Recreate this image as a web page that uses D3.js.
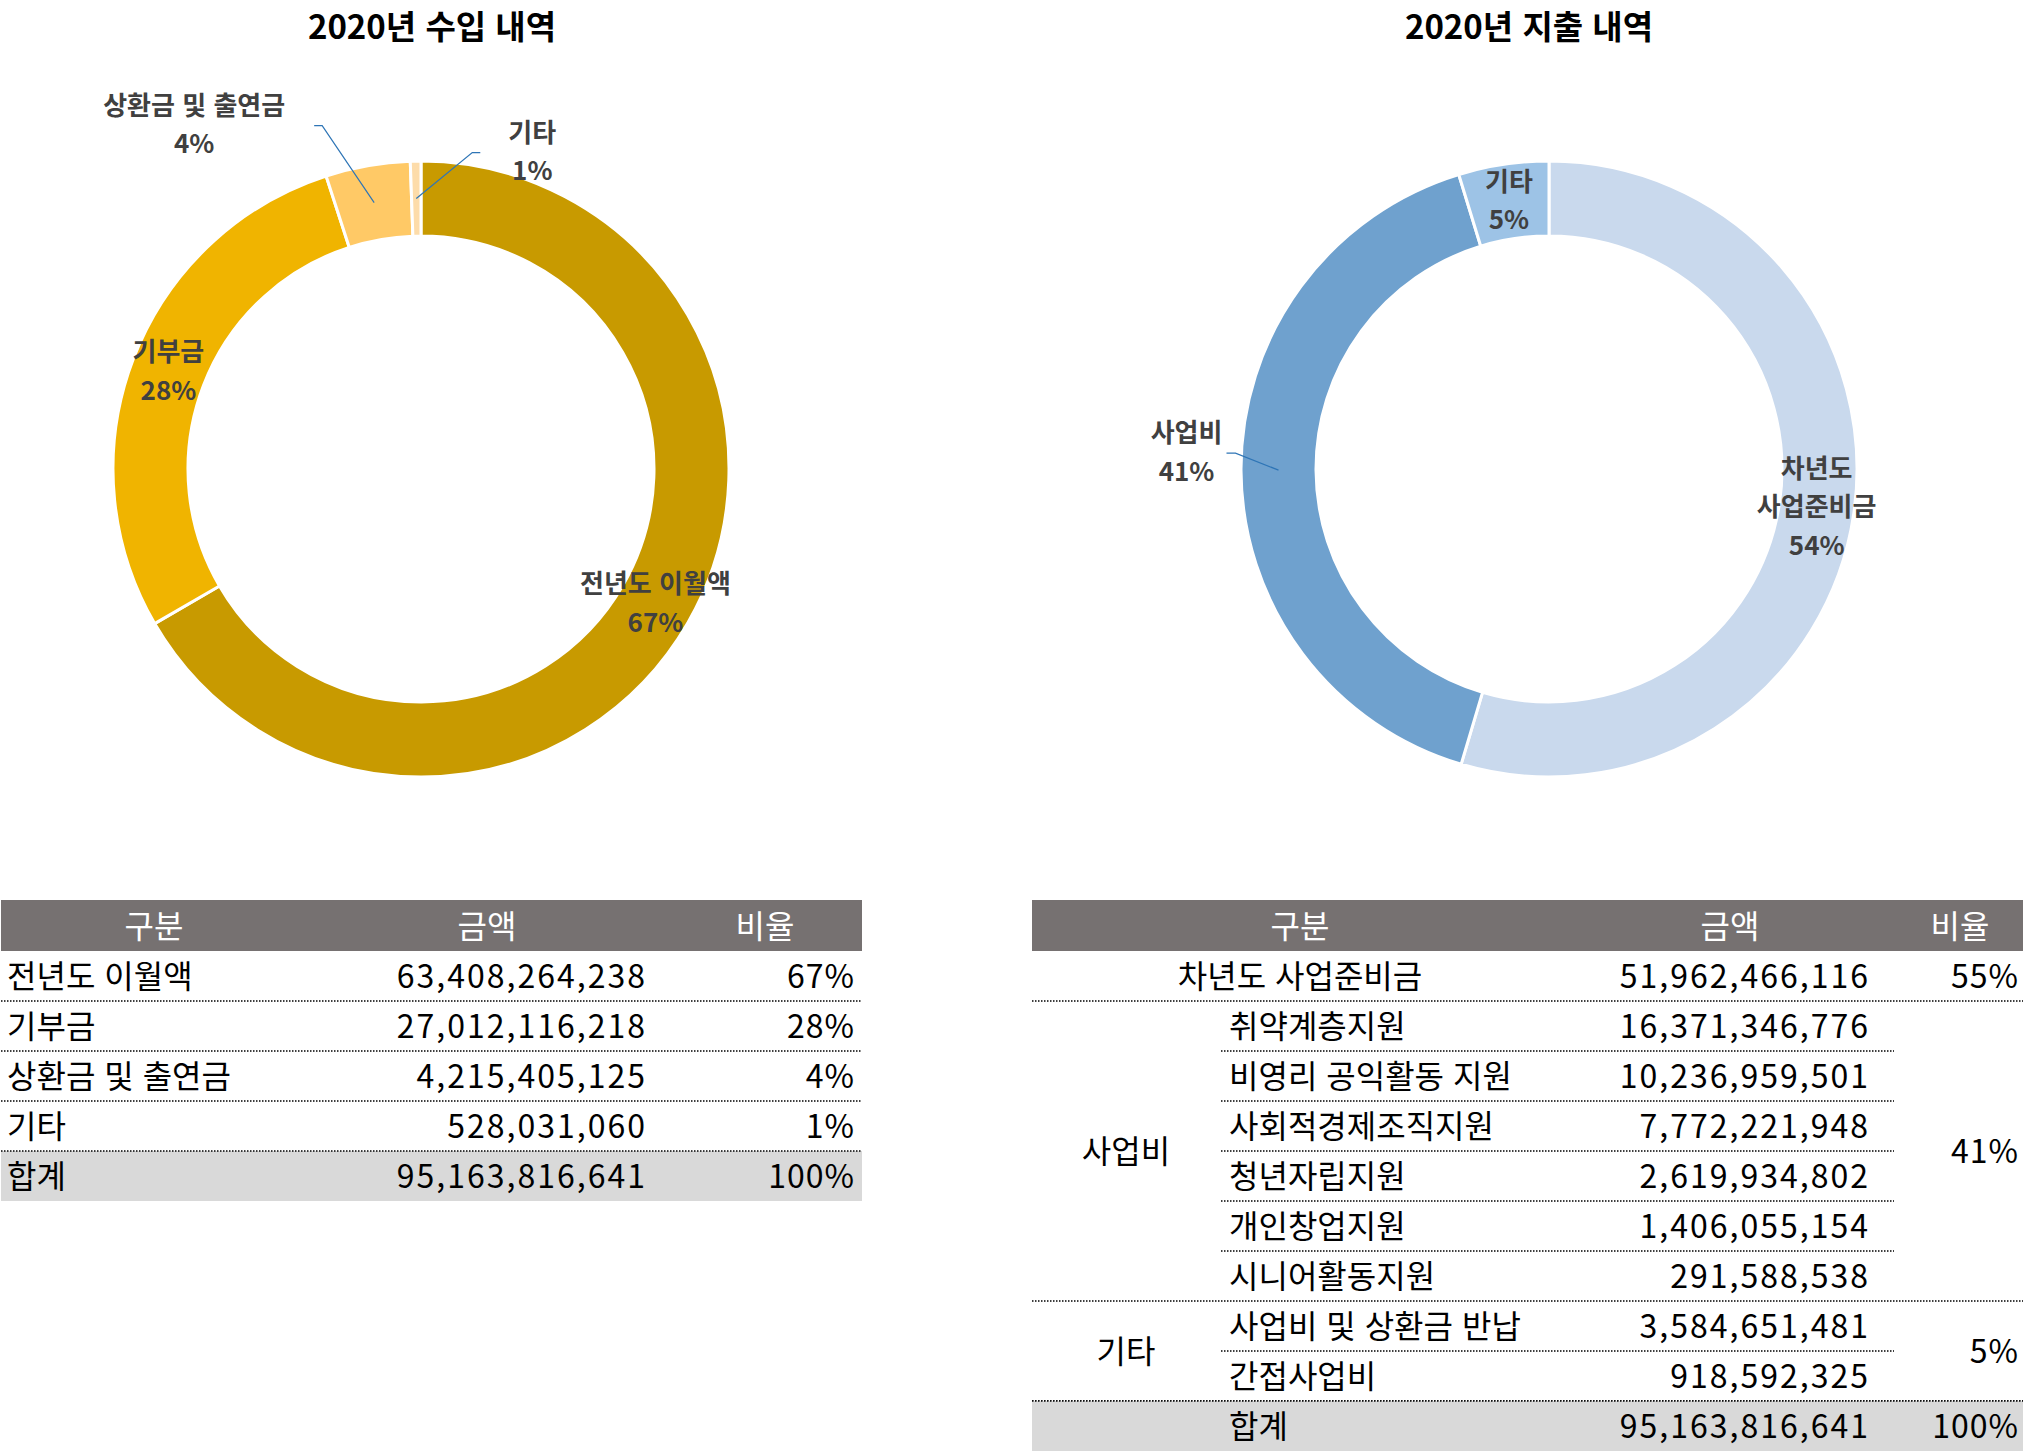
<!DOCTYPE html>
<html lang="ko">
<head>
<meta charset="utf-8">
<script src="https://cdn.jsdelivr.net/npm/d3@7"></script>
<style>
  html, body { margin: 0; padding: 0; background: #fff; }
  svg { display: block; }
  text { font-family: "Noto Sans CJK KR", "Noto Sans", sans-serif; }
</style>
</head>
<body>
<div id="chart"></div>
<script>
// ---------------- DATA ----------------
const incomeTitle = "2020년 수입 내역";
const expenseTitle = "2020년 지출 내역";

const incomeCategories = ["전년도 이월액", "기부금", "상환금 및 출연금", "기타"];
const incomeValues = [63408264238, 27012116218, 4215405125, 528031060];
const incomePct = ["67%", "28%", "4%", "1%"];
const incomeTotal = 95163816641;
const incomeTotalPct = "100%";

const expenseCategories = ["차년도 사업준비금", "사업비", "기타"];
const expenseDonutLabels = [["차년도", "사업준비금"], ["사업비"], ["기타"]];
const expenseDonutPct = ["54%", "41%", "5%"];
const expenseTablePct = ["55%", "41%", "5%"];
const reserveValue = 51962466116;
const businessItems = ["취약계층지원", "비영리 공익활동 지원", "사회적경제조직지원", "청년자립지원", "개인창업지원", "시니어활동지원"];
const businessValues = [16371346776, 10236959501, 7772221948, 2619934802, 1406055154, 291588538];
const otherItems = ["사업비 및 상환금 반납", "간접사업비"];
const otherValues = [3584651481, 918592325];
const expenseTotal = 95163816641;
const expenseTotalPct = "100%";

const tableHeaders = ["구분", "금액", "비율"];
const totalLabel = "합계";

const incomeColors = ["#C89A00", "#F0B400", "#FFC966", "#FDDCAA"];
const expenseColors = ["#C9D9ED", "#6FA1CE", "#9DC3E6"];

// ---------------- LAYOUT ----------------
const W = 2023, H = 1451;
const svg = d3.select("#chart").append("svg").attr("width", W).attr("height", H);
const fmt = d3.format(",");

const outerR = 308, innerR = 233;
const labelFont = 26, labelLine = 38.5;
const labelColor = "#404040", leaderColor = "#2E75B6";

// titles
svg.append("text").attr("x", 432).attr("y", 25).attr("text-anchor", "middle")
  .attr("dominant-baseline", "central").attr("font-size", 33).attr("font-weight", 700)
  .attr("fill", "#000").text(incomeTitle);
svg.append("text").attr("x", 1529).attr("y", 25).attr("text-anchor", "middle")
  .attr("dominant-baseline", "central").attr("font-size", 33).attr("font-weight", 700)
  .attr("fill", "#000").text(expenseTitle);

function donut(cx, cy, values, colors, labelLines, pcts, shifts) {
  const g = svg.append("g").attr("transform", `translate(${cx},${cy})`);
  const pie = d3.pie().sort(null).value(d => d);
  const arc = d3.arc().innerRadius(innerR).outerRadius(outerR);
  const arcs = pie(values);
  g.selectAll("path.slice").data(arcs).join("path")
    .attr("class", "slice")
    .attr("d", arc)
    .attr("fill", (d, i) => colors[i])
    .attr("stroke", "#fff").attr("stroke-width", 3);

  arcs.forEach((d, i) => {
    const [px, py] = arc.centroid(d);
    const s = shifts[i];
    let lx = px, ly = py;
    if (s) {
      lx = px + s.dx; ly = py + s.dy;
      const pts = [[px, py], [lx + s.leg1, ly], [lx + s.leg0, ly]];
      g.append("path").attr("d", d3.line()(pts))
        .attr("fill", "none").attr("stroke", leaderColor).attr("stroke-width", 1.2);
    }
    const lines = labelLines[i].concat([pcts[i]]);
    const n = lines.length;
    lines.forEach((t, k) => {
      g.append("text").attr("x", lx).attr("y", ly - 3 + (k - (n - 1) / 2) * labelLine)
        .attr("text-anchor", "middle").attr("dominant-baseline", "central")
        .attr("font-size", labelFont).attr("font-weight", 700)
        .attr("fill", labelColor).text(t);
    });
  });
}

const expenseValues = [reserveValue, d3.sum(businessValues), d3.sum(otherValues)];

donut(421, 469, incomeValues, incomeColors, incomeCategories.map(c => [c]), incomePct,
  [null, null, {dx: -180, dy: -77, leg0: 120, leg1: 128}, {dx: 116, dy: -46, leg0: -52, leg1: -60}]);
donut(1549, 469, expenseValues, expenseColors, expenseDonutLabels, expenseDonutPct,
  [null, {dx: -92, dy: -17, leg0: 40, leg1: 49}, null]);

// ---------------- TABLES ----------------
const headTop = 900, headH = 51, rowH = 50;
const rowTop = headTop + headH;
const fs = 32;
const textShift = -2;
const headerBg = "#767171", totalBg = "#D9D9D9";

function cellText(x, y, t, anchor, opts = {}) {
  svg.append("text").attr("x", x).attr("y", y + textShift)
    .attr("text-anchor", anchor).attr("dominant-baseline", "central")
    .attr("font-size", fs).attr("font-weight", opts.weight || 400)
    .attr("letter-spacing", opts.ls || 0)
    .attr("fill", opts.fill || "#000").text(t);
}
function dotted(x0, x1, y) {
  svg.append("line").attr("x1", x0).attr("x2", x1).attr("y1", y).attr("y2", y)
    .attr("stroke", "#000").attr("stroke-width", 1.3).attr("stroke-dasharray", "1.5,1.5");
}

// Left table
{
  const x0 = 1, x1 = 862;
  const nameX = 7, amtX = 647, pctX = 855;
  const headCX = [154, 487, 765];
  svg.append("rect").attr("x", x0).attr("y", headTop).attr("width", x1 - x0).attr("height", headH).attr("fill", headerBg);
  tableHeaders.forEach((h, i) => cellText(headCX[i], headTop + headH / 2, h, "middle", {fill: "#fff"}));
  const rows = incomeCategories.map((c, i) => ({name: c, v: incomeValues[i], p: incomePct[i]}));
  rows.push({name: totalLabel, v: incomeTotal, p: incomeTotalPct, total: true});
  rows.forEach((r, i) => {
    const top = rowTop + i * rowH;
    if (r.total) svg.append("rect").attr("x", x0).attr("y", top).attr("width", x1 - x0).attr("height", rowH).attr("fill", totalBg);
    const cy = top + rowH / 2;
    cellText(nameX, cy, r.name, "start");
    cellText(amtX, cy, fmt(r.v), "end", {ls: 2});
    cellText(pctX, cy, r.p, "end", {ls: 1});
  });
  for (let i = 1; i < rows.length; i++) dotted(x0, x1, rowTop + i * rowH);
}

// Right table
{
  const x0 = 1032, x1 = 2023;
  const groupCX = 1126, itemX = 1229, amtX = 1870, pctX = 2019;
  const subX0 = 1221, subX1 = 1894;
  const headCX = [1300, 1730, 1960];
  svg.append("rect").attr("x", x0).attr("y", headTop).attr("width", x1 - x0).attr("height", headH).attr("fill", headerBg);
  tableHeaders.forEach((h, i) => cellText(headCX[i], headTop + headH / 2, h, "middle", {fill: "#fff"}));

  let r = 0;
  const rowY = k => rowTop + k * rowH;
  // reserve row
  cellText(headCX[0], rowY(0) + rowH / 2, expenseCategories[0], "middle");
  cellText(amtX, rowY(0) + rowH / 2, fmt(reserveValue), "end", {ls: 2});
  cellText(pctX, rowY(0) + rowH / 2, expenseTablePct[0], "end", {ls: 1});
  r = 1;
  dotted(x0, x1, rowY(r));
  const groups = [
    {name: expenseCategories[1], items: businessItems, values: businessValues, pct: expenseTablePct[1]},
    {name: expenseCategories[2], items: otherItems, values: otherValues, pct: expenseTablePct[2]}
  ];
  groups.forEach(g => {
    const start = r;
    g.items.forEach((it, j) => {
      const cy = rowY(r) + rowH / 2;
      cellText(itemX, cy, it, "start");
      cellText(amtX, cy, fmt(g.values[j]), "end", {ls: 2});
      if (j < g.items.length - 1) dotted(subX0, subX1, rowY(r + 1));
      r++;
    });
    const mid = (rowY(start) + rowY(r)) / 2;
    cellText(groupCX, mid, g.name, "middle");
    cellText(pctX, mid, g.pct, "end", {ls: 1});
    dotted(x0, x1, rowY(r));
  });
  // total row
  svg.append("rect").attr("x", x0).attr("y", rowY(r)).attr("width", x1 - x0).attr("height", rowH).attr("fill", totalBg);
  dotted(x0, x1, rowY(r));
  const cy = rowY(r) + rowH / 2;
  cellText(itemX, cy, totalLabel, "start");
  cellText(amtX, cy, fmt(expenseTotal), "end", {ls: 2});
  cellText(pctX, cy, expenseTotalPct, "end", {ls: 1});
}
</script>
</body>
</html>
